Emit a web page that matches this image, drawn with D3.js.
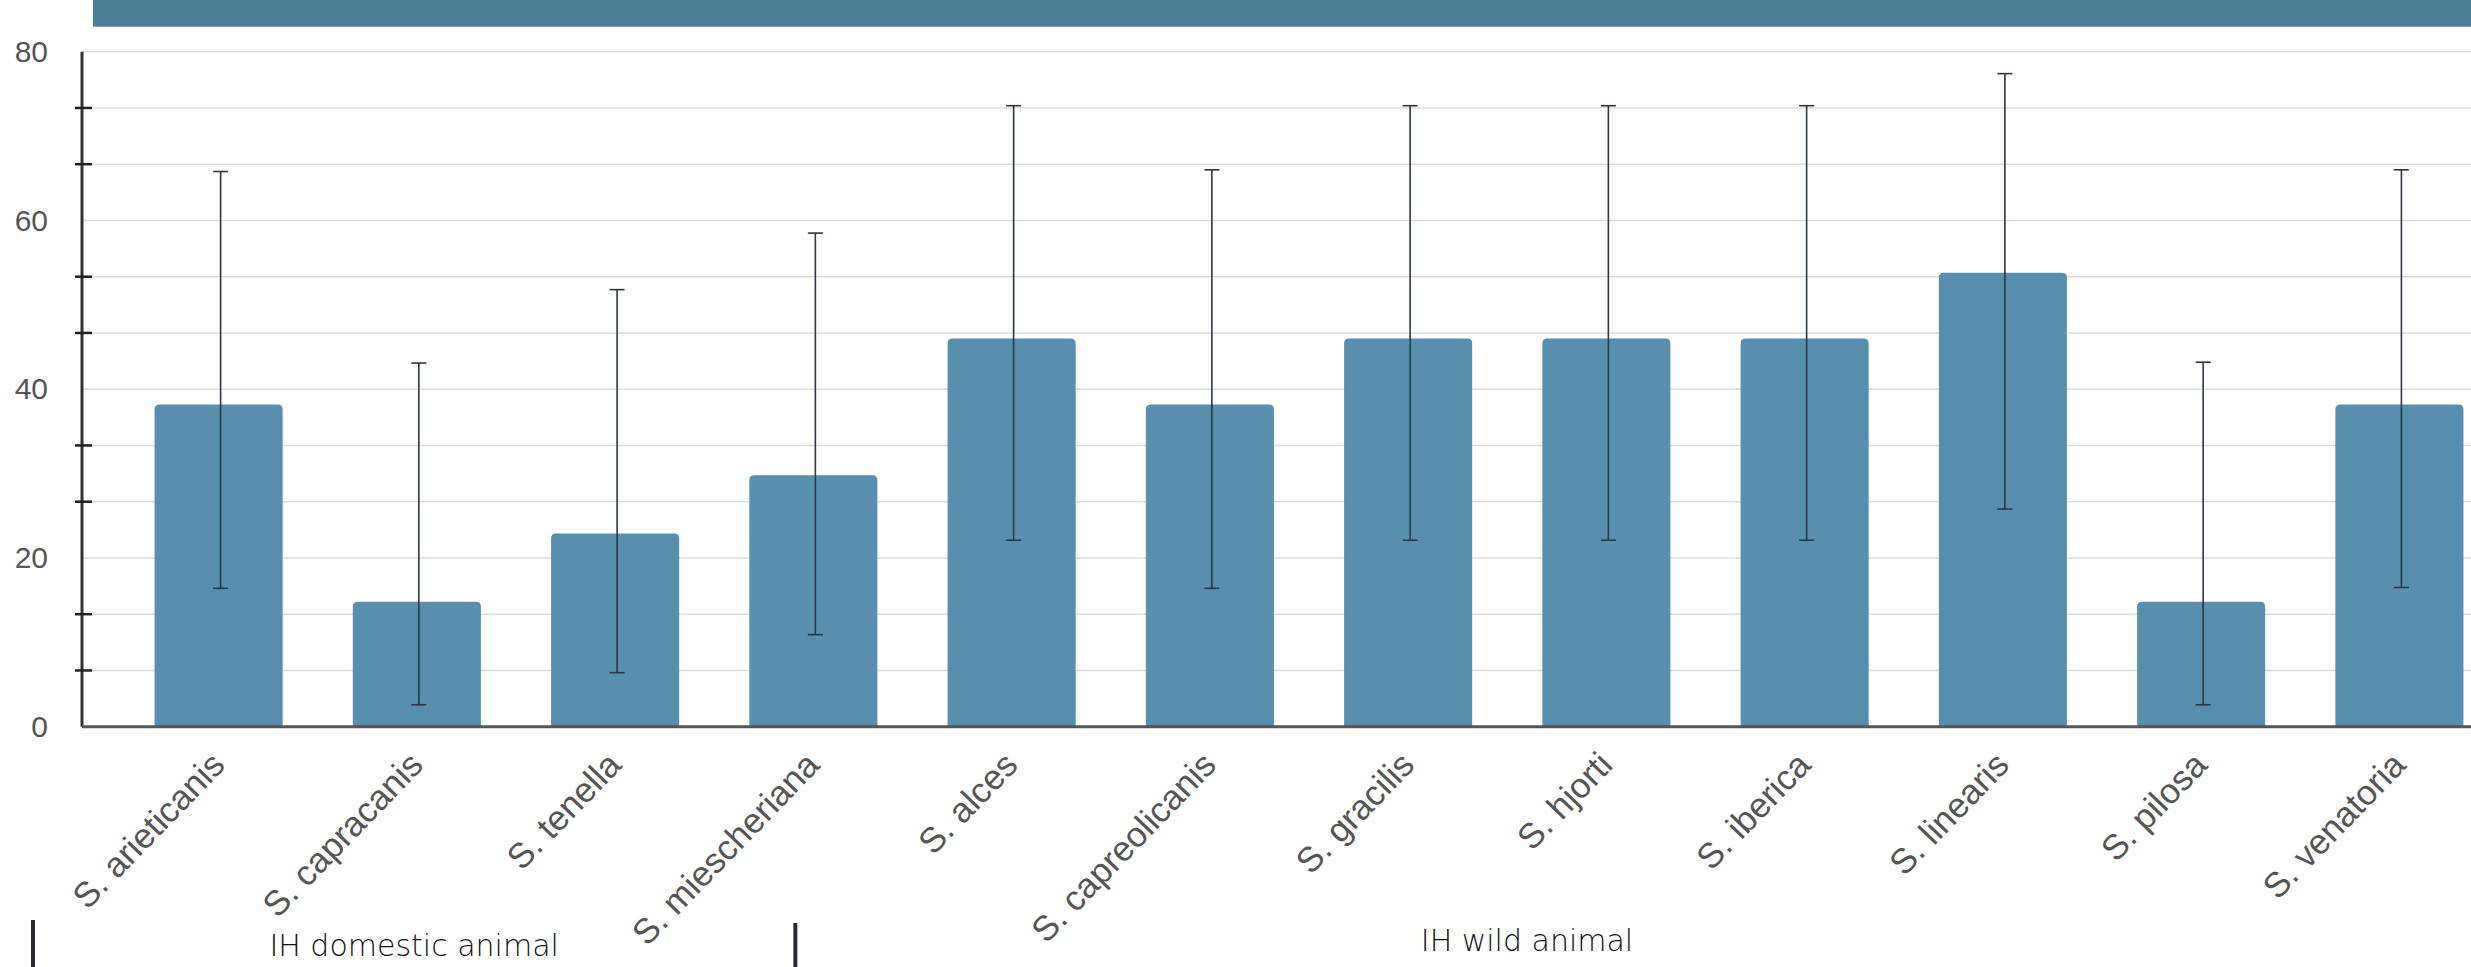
<!DOCTYPE html>
<html>
<head>
<meta charset="utf-8">
<script src="https://cdn.jsdelivr.net/npm/d3@7"></script>
<style>
  body { margin: 0; background: #fff; overflow: hidden; }
</style>
</head>
<body>
<svg id="chart"></svg>
<script>
const species = [
  'S. arieticanis', 'S. capracanis', 'S. tenella', 'S. miescheriana',
  'S. alces', 'S. capreolicanis', 'S. gracilis', 'S. hjorti',
  'S. iberica', 'S. linearis', 'S. pilosa', 'S. venatoria'
];
const prevalence = [38.2, 14.8, 22.9, 29.8, 46.0, 38.2, 46.0, 46.0, 46.0, 53.8, 14.8, 38.2];
const ciLower    = [16.4, 2.6, 6.4, 10.9, 22.1, 16.4, 22.1, 22.1, 22.1, 25.8, 2.6, 16.5];
const ciUpper    = [65.8, 43.1, 51.8, 58.5, 73.6, 66.0, 73.6, 73.6, 73.6, 77.4, 43.2, 66.0];
const yLabels = [0, 20, 40, 60, 80];
const groupNames = ['IH domestic animal', 'IH wild animal'];

class BarChart {

  constructor(_config, _data) {
    this.config = {
      parentElement: _config.parentElement,
      containerWidth: 2471,
      containerHeight: 967,
      margin: {top: 51.7, left: 82, bottom: 240.3},
      fullRight: 2536
    };
    this.data = _data;
    this.initVis();
  }

  initVis() {
    let vis = this;
    const c = vis.config;

    vis.height = c.containerHeight - c.margin.top - c.margin.bottom;

    vis.xScale = d3.scaleBand()
      .domain(species)
      .range([c.margin.left, c.fullRight])
      .paddingInner(0.354)
      .paddingOuter(0.366);

    vis.yScale = d3.scaleLinear()
      .domain([0, 80])
      .range([c.margin.top + vis.height, c.margin.top]);

    vis.svg = d3.select(c.parentElement)
      .attr('width', c.containerWidth)
      .attr('height', c.containerHeight);

    // banner across the top
    vis.svg.append('rect')
      .attr('x', 93)
      .attr('y', 0)
      .attr('width', c.containerWidth - 93)
      .attr('height', 26.7)
      .attr('fill', '#4d7f98');

    vis.chart = vis.svg.append('g');
    vis.renderVis();
  }

  renderVis() {
    let vis = this;
    const c = vis.config;
    const y0 = vis.yScale(0);
    const gridValues = d3.range(0, 13).map(i => i * 20 / 3);
    const minorValues = gridValues.filter((d, i) => i % 3 !== 0);

    // gridlines
    vis.chart.append('g')
      .selectAll('line')
      .data(gridValues)
      .join('line')
        .attr('x1', c.margin.left)
        .attr('x2', c.containerWidth)
        .attr('y1', d => vis.yScale(d))
        .attr('y2', d => vis.yScale(d))
        .attr('stroke', '#dcdcdc')
        .attr('stroke-width', 1.6);

    // bars with rounded tops
    const bw = vis.xScale.bandwidth();
    const r = 5;
    vis.chart.append('g')
      .selectAll('path')
      .data(vis.data)
      .join('path')
        .attr('fill', '#578fad')
        .attr('d', d => {
          const x = vis.xScale(d.name);
          const yt = vis.yScale(d.value);
          return `M${x},${y0} V${yt + r} Q${x},${yt} ${x + r},${yt} H${x + bw - r} Q${x + bw},${yt} ${x + bw},${yt + r} V${y0} Z`;
        });

    // error bars
    const eb = vis.chart.append('g')
      .selectAll('g')
      .data(vis.data)
      .join('g')
        .attr('transform', d => `translate(${vis.xScale(d.name) + bw / 2 + 2},0)`)
        .attr('stroke', '#2d3745')
        .attr('stroke-width', 1.6);
    eb.append('line')
      .attr('y1', d => vis.yScale(d.lo))
      .attr('y2', d => vis.yScale(d.hi));
    eb.append('line')
      .attr('x1', -7.5).attr('x2', 7.5)
      .attr('y1', d => vis.yScale(d.hi))
      .attr('y2', d => vis.yScale(d.hi));
    eb.append('line')
      .attr('x1', -7.5).attr('x2', 7.5)
      .attr('y1', d => vis.yScale(d.lo))
      .attr('y2', d => vis.yScale(d.lo));

    // y axis
    vis.yAxis = d3.axisLeft(vis.yScale)
      .tickValues(yLabels)
      .tickSize(0)
      .tickPadding(34);
    vis.chart.append('g')
      .attr('transform', `translate(${c.margin.left},0)`)
      .call(vis.yAxis)
      .call(g => g.select('.domain').remove())
      .selectAll('text')
        .style('font-family', 'Liberation Sans, Arial, sans-serif')
        .style('font-size', '30px')
        .attr('fill', '#555');

    vis.chart.append('line')
      .attr('x1', c.margin.left).attr('x2', c.margin.left)
      .attr('y1', vis.yScale(80)).attr('y2', y0)
      .attr('stroke', '#333')
      .attr('stroke-width', 3);

    vis.chart.append('g')
      .selectAll('line')
      .data(minorValues)
      .join('line')
        .attr('x1', c.margin.left - 7)
        .attr('x2', c.margin.left + 10)
        .attr('y1', d => vis.yScale(d))
        .attr('y2', d => vis.yScale(d))
        .attr('stroke', '#222')
        .attr('stroke-width', 2.5);

    // x axis
    vis.xAxis = d3.axisBottom(vis.xScale).tickSize(0);
    vis.chart.append('g')
      .attr('transform', `translate(0,${y0})`)
      .call(vis.xAxis)
      .call(g => g.select('.domain').remove())
      .selectAll('text')
        .attr('x', 0).attr('y', 0).attr('dy', 0)
        .attr('transform', 'translate(8,40) rotate(-46)')
        .attr('text-anchor', 'end')
        .style('font-family', 'Liberation Sans, Arial, sans-serif')
        .style('font-size', '35px')
        .attr('fill', '#555');

    vis.chart.append('line')
      .attr('x1', c.margin.left).attr('x2', c.containerWidth)
      .attr('y1', y0).attr('y2', y0)
      .attr('stroke', '#555')
      .attr('stroke-width', 3);

    // host group annotation
    const sepX = [33, vis.xScale('S. miescheriana') + 46];
    vis.svg.append('g')
      .selectAll('line')
      .data(sepX)
      .join('line')
        .attr('x1', d => d).attr('x2', d => d)
        .attr('y1', (d, i) => i ? 923 : 920)
        .attr('y2', c.containerHeight)
        .attr('stroke', '#2a2a35')
        .attr('stroke-width', 4);

    const groupPos = [
      {x: (sepX[0] + sepX[1]) / 2, y: 956},
      {x: 1527, y: 951}
    ];
    vis.svg.append('g')
      .selectAll('text')
      .data(groupNames)
      .join('text')
        .attr('x', (d, i) => groupPos[i].x)
        .attr('y', (d, i) => groupPos[i].y)
        .attr('text-anchor', 'middle')
        .style('font-family', 'DejaVu Sans, sans-serif')
        .style('font-weight', 200)
        .style('font-size', '30px')
        .attr('fill', '#111')
        .text(d => d);
  }
}

const data = species.map((s, i) => ({
  name: s, value: prevalence[i], lo: ciLower[i], hi: ciUpper[i]
}));

new BarChart({parentElement: '#chart'}, data);
</script>
</body>
</html>
